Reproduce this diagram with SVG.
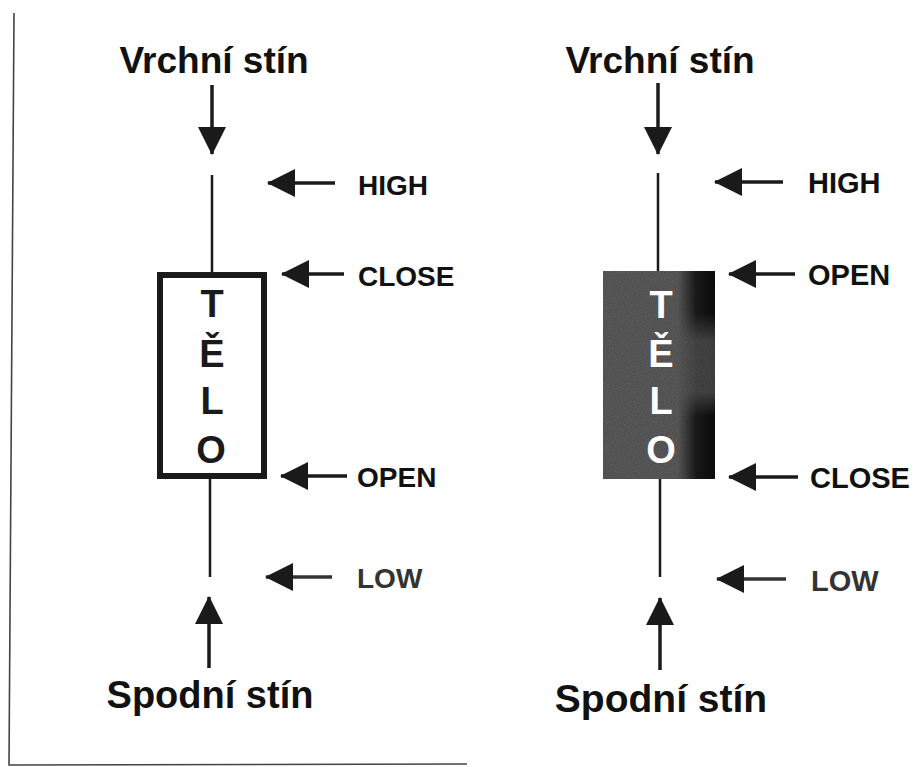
<svg xmlns="http://www.w3.org/2000/svg" width="924" height="767" viewBox="0 0 924 767">
  <style>
    .title { font-family: "Liberation Sans", Arial, sans-serif; font-weight: bold; font-size: 37px; fill: #111; text-anchor: middle; }
    .lbl { font-family: "Liberation Sans", Arial, sans-serif; font-weight: bold; font-size: 28px; fill: #111; }
    .body { font-family: "Liberation Sans", Arial, sans-serif; font-weight: bold; font-size: 38px; text-anchor: middle; }
    .wick { stroke: #1a1a1a; stroke-width: 2.5; fill: none; }
    .arr { stroke: #1a1a1a; stroke-width: 3.5; fill: none; marker-end: url(#head); }
    .frame { stroke: #444; stroke-width: 1.6; fill: none; }
  </style>
  <defs>
    <marker id="head" markerUnits="userSpaceOnUse" markerWidth="28" markerHeight="28" refX="27" refY="14" orient="auto">
      <path d="M0,0 L28,14 L0,28 z" fill="#1a1a1a"/>
    </marker>
    <linearGradient id="band" x1="0" y1="0" x2="1" y2="0">
      <stop offset="0" stop-color="#111" stop-opacity="0"/>
      <stop offset="0.5" stop-color="#111" stop-opacity="0.9"/>
      <stop offset="1" stop-color="#0a0a0a" stop-opacity="1"/>
    </linearGradient>
    <linearGradient id="vfade" x1="0" y1="0" x2="0" y2="1">
      <stop offset="0" stop-color="#fff"/>
      <stop offset="0.2" stop-color="#fff"/>
      <stop offset="0.34" stop-color="#fff" stop-opacity="0.3"/>
      <stop offset="0.58" stop-color="#fff" stop-opacity="0.3"/>
      <stop offset="0.7" stop-color="#fff"/>
      <stop offset="1" stop-color="#fff"/>
    </linearGradient>
    <mask id="bandMask">
      <rect x="678" y="271" width="38" height="208" fill="url(#vfade)"/>
    </mask>
    <filter id="grain" x="0" y="0" width="1" height="1">
      <feTurbulence type="fractalNoise" baseFrequency="0.9" numOctaves="2" seed="3" result="n"/>
      <feColorMatrix in="n" type="matrix" values="0 0 0 0 0.2  0 0 0 0 0.2  0 0 0 0 0.2  0 0 0 0.4 0" result="g"/>
      <feComposite in="g" in2="SourceGraphic" operator="in" result="gi"/>
      <feMerge><feMergeNode in="SourceGraphic"/><feMergeNode in="gi"/></feMerge>
    </filter>
  </defs>

  <rect width="924" height="767" fill="#fff"/>

  <g id="frame">
    <path class="frame" d="M14,13 L9,765 L467,764"/>
  </g>

  <g id="connectors">
    <!-- left candle -->
    <line class="arr" x1="212" y1="85" x2="212" y2="154"/>
    <line class="arr" x1="335" y1="183" x2="268" y2="183"/>
    <line class="arr" x1="344" y1="274" x2="282" y2="274"/>
    <line class="arr" x1="347" y1="476" x2="281" y2="476"/>
    <line class="arr" x1="332" y1="577" x2="266" y2="577" style="stroke:#333"/>
    <line class="arr" x1="209" y1="668" x2="209" y2="597"/>
    <!-- right candle -->
    <line class="arr" x1="658" y1="83" x2="658" y2="154"/>
    <line class="arr" x1="783" y1="182" x2="715" y2="182"/>
    <line class="arr" x1="795" y1="274" x2="729" y2="274"/>
    <line class="arr" x1="798" y1="477" x2="729" y2="477"/>
    <line class="arr" x1="786" y1="579" x2="717" y2="579" style="stroke:#333"/>
    <line class="arr" x1="660" y1="670" x2="660" y2="598"/>
  </g>

  <g id="candle-white">
    <line class="wick" x1="212" y1="175" x2="212" y2="273"/>
    <line class="wick" x1="210" y1="478" x2="210" y2="577"/>
    <rect x="160" y="275" width="104" height="201" fill="#fff" stroke="#1a1a1a" stroke-width="6"/>
    <text class="body" x="212" y="317" fill="#1a1a1a">T</text>
    <text class="body" x="212" y="367" fill="#1a1a1a">Ě</text>
    <text class="body" x="212" y="414" fill="#1a1a1a">L</text>
    <text class="body" x="211" y="463" fill="#1a1a1a">O</text>
  </g>

  <g id="candle-black">
    <line class="wick" x1="658" y1="173" x2="658" y2="272"/>
    <line class="wick" x1="660" y1="478" x2="660" y2="577"/>
    <rect x="603" y="271" width="112" height="208" fill="#474747" filter="url(#grain)"/>
    <rect x="678" y="271" width="37" height="208" fill="url(#band)" mask="url(#bandMask)"/>
    <text class="body" x="661" y="318" fill="#fff">T</text>
    <text class="body" x="661" y="367" fill="#fff">Ě</text>
    <text class="body" x="661" y="414" fill="#fff">L</text>
    <text class="body" x="661" y="463" fill="#fff">O</text>
  </g>

  <g id="labels-left">
    <text class="title" x="214" y="73">Vrchní stín</text>
    <text class="lbl" x="358" y="195">HIGH</text>
    <text class="lbl" x="358" y="286">CLOSE</text>
    <text class="lbl" x="357" y="487">OPEN</text>
    <text class="lbl" x="357" y="588" style="fill:#333">LOW</text>
    <text class="title" x="210" y="708" style="font-size:38px">Spodní stín</text>
  </g>

  <g id="labels-right">
    <text class="title" x="660" y="73">Vrchní stín</text>
    <text class="lbl" x="808" y="193" style="font-size:29px">HIGH</text>
    <text class="lbl" x="808" y="285" style="font-size:29px">OPEN</text>
    <text class="lbl" x="810" y="488" style="font-size:29px">CLOSE</text>
    <text class="lbl" x="811" y="591" style="font-size:29px;fill:#333">LOW</text>
    <text class="title" x="661" y="712" style="font-size:39px">Spodní stín</text>
  </g>
</svg>
